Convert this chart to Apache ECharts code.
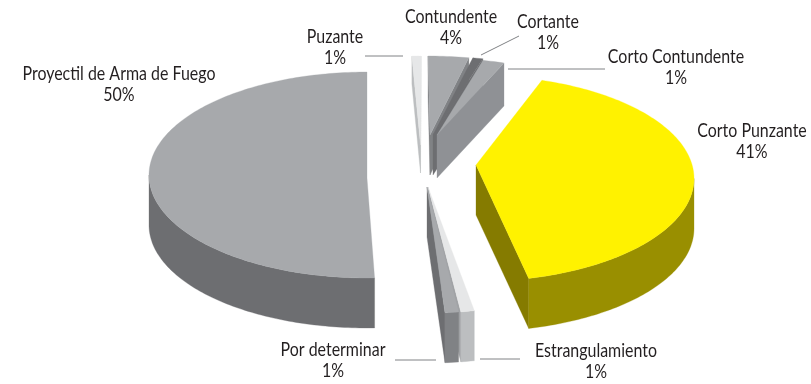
<!DOCTYPE html>
<html>
<head>
<meta charset="utf-8">
<style>html,body{margin:0;padding:0;background:#fff}#c{width:811px;height:384px}</style>
<script src="https://cdn.jsdelivr.net/npm/echarts@6/dist/echarts.min.js"></script>
</head>
<body>
<div id="c"></div>
<script>
// ---- data (clockwise from the yellow slice)
var categories = ['Corto Punzante','Estrangulamiento','Por determinar','Proyectil de Arma de Fuego','Puzante','Contundente','Cortante','Corto Contundente'];
var values = [41,1,1,50,1,4,1,1];

// ---- styling / layout
var FONT = 'Lato,"Liberation Sans",sans-serif';
var TEXT_SCALE = 0.84;
var START_ANGLE = 17.4, RX = 218, RY = 103;
var topColors  = ['#fff200','#e6e7e8','#a7a9ac','#a7a9ac','#e6e7e8','#a7a9ac','#6d6e71','#a7a9ac'];
var wallColors = ['#998f00','#bcbec0','#808285','#6d6e71','#bcbec0','#808285','#58595b','#8f9195'];
var sideColors = ['#857b00','#a0a2a5','#6d6e71','#6d6e71','#bcbec0','#808285','#6d6e71','#8f9195'];
// ellipse centre, apex of the top face, wall depth, angular trim at each end
var layout = [
  {cx:476,cy:178.5,ax:476,ay:165,d:50,t0:0.2,t1:1},
  {cx:429,cy:210,ax:428,ay:187,d:50,t0:3,  t1:3},
  {cx:429,cy:210,ax:427,ay:187,d:50,t0:3.6,t1:3.6},
  {cx:367,cy:175,ax:367,ay:178,d:50,t0:5.8,t1:7.8},
  {cx:421,cy:159,ax:420.5,ay:145,d:28,t0:5.4,t1:4.2},
  {cx:428,cy:159,ax:430,ay:135,d:40,t0:4.2,t1:0.6},
  {cx:432,cy:159,ax:433,ay:135,d:40,t0:0.6,t1:-0.3},
  {cx:437,cy:161,ax:437,ay:135,d:43,t0:-1.6,t1:0.5}
];
var labelPos = [[752,131],[596,351],[333,350],[119,74],[335,37],[451,17],[548,22],[676,57]];
var leaders = [null,[480,359,520,359],[395,360,436,360],null,[365,56,403,56],null,[481,55,519,36],[508,69,605,69]];

// ---- angles derived from the values
var total = values.reduce(function(a,b){return a+b;},0);
var angles = [], acc = START_ANGLE;
values.forEach(function(v,i){
  var sweep = v/total*360;
  angles.push([acc+layout[i].t0, acc+sweep+layout[i].t1]);
  acc += sweep;
});
function rad(a){return a*Math.PI/180;}

function renderItem(params, api){
  var i = params.dataIndex, L = layout[i], a0 = angles[i][0], a1 = angles[i][1];
  function pt(a){return [L.cx+RX*Math.sin(rad(a)), L.cy-RY*Math.cos(rad(a))];}
  var A = [L.ax,L.ay], arc = [], a;
  for(a=a0;a<a1;a+=1){arc.push(pt(a));}
  arc.push(pt(a1));
  var P0 = arc[0], P1 = arc[arc.length-1], M = pt((a0+a1)/2);
  var children = [];
  function poly(points,color){
    children.push({type:'polygon',shape:{points:points},
      style:{fill:color,stroke:color,lineWidth:0.3}});
  }
  function down(p){return [p[0],p[1]+L.d];}
  function wallVisible(P){
    var ex=P[0]-A[0], ey=P[1]-A[1];
    var c1 = ex*(M[1]-A[1])-ey*(M[0]-A[0]);
    var c2 = ex*1;
    return c1*c2<0;
  }
  [P0,P1].forEach(function(P){
    if(wallVisible(P)){poly([A,P,down(P),down(A)],sideColors[i]);}
  });
  // outer wall: the part of the rim that faces the viewer
  var rim=[];
  for(a=Math.max(a0,90);a<Math.min(a1,270);a+=1){rim.push(pt(a));}
  if(a0<270&&a1>90){rim.push(pt(Math.min(a1,270)));}
  if(rim.length>1){poly(rim.concat(rim.slice().reverse().map(down)),wallColors[i]);}
  // top face
  poly([A].concat(arc),topColors[i]);
  // leader
  var ld = leaders[i];
  if(ld){children.push({type:'line',shape:{x1:ld[0],y1:ld[1],x2:ld[2],y2:ld[3]},
    style:{stroke:'#808285',lineWidth:1}});}
  // labels
  var lp = labelPos[i];
  children.push({type:'text',x:lp[0],y:lp[1],scaleX:TEXT_SCALE,style:{text:categories[i],font:'19px '+FONT,fill:'#231f20',align:'center',verticalAlign:'middle'}});
  children.push({type:'text',x:lp[0],y:lp[1]+21,scaleX:TEXT_SCALE,style:{text:values[i]+'%',font:'19px '+FONT,fill:'#231f20',align:'center',verticalAlign:'middle'}});
  return {type:'group',children:children};
}

var chart = echarts.init(document.getElementById('c'),null,{renderer:'canvas'});
chart.setOption({
  backgroundColor:'#ffffff',
  animation:false,
  series:[{type:'custom',coordinateSystem:'none',renderItem:renderItem,
    data:values.map(function(v,i){return {name:categories[i],value:v};})}]
});
</script>
</body>
</html>
